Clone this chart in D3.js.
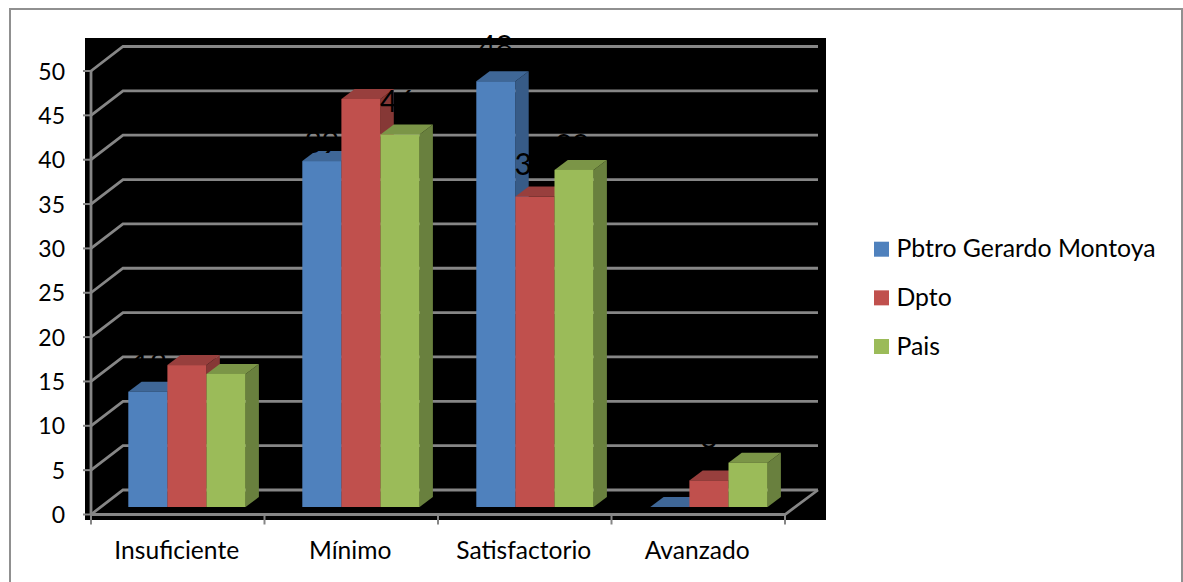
<!DOCTYPE html>
<html><head><meta charset="utf-8">
<script src="https://cdn.jsdelivr.net/npm/d3@7"></script>
<style>html,body{margin:0;padding:0;background:#fff}svg{display:block}text{font-family:Lato,"Open Sans",sans-serif}</style>
</head><body><svg id="c" width="1183" height="582"></svg>
<script>
const categories = ["Insuficiente","Mínimo","Satisfactorio","Avanzado"];
const seriesNames = ["Pbtro Gerardo Montoya","Dpto","Pais"];
const pbtro = [13,39,48,0];
const dpto = [16,46,35,3];
const pais = [15,42,38,5];
const yTicks = [0,5,10,15,20,25,30,35,40,45,50];
const colors = ["#4F81BD","#C0504D","#9BBB59"];
const topColors = ["#3F6797","#983F3D","#7B9547"];
const sideColors = ["#375B87","#863836","#69803E"];
// label nudges relative to the centre/top of each bar: [series][category]
const labelDx = [[2,0,0,0],[0,36.5,-3,0],[0,34,-2,0]];
const labelDy = [[-17,-8,-24,-20],[-26,13,-22,-32],[-26,-11,-14,-28]];
const seriesValues = [pbtro,dpto,pais];

const svg = d3.select("#c");
svg.append("rect").attr("x",10).attr("y",9).attr("width",1172).attr("height",590)
  .attr("fill","#fff").attr("stroke","#909090").attr("stroke-width",2);
svg.append("rect").attr("x",85).attr("y",38).attr("width",741).attr("height",482).attr("fill","#000");

const y = d3.scaleLinear().domain([0,50]).range([514.5,71]);
const x = d3.scaleBand().domain(categories).range([91,785]);
const xBars = d3.scaleBand().domain(categories).range([91,787]);
const grid="#868686";
const backDx=32, backDy=24.5, gridRight=818;
const g = svg.append("g").attr("fill","none").attr("stroke",grid).attr("stroke-width",2.8);
yTicks.forEach(t=>{
  g.append("path").attr("d",d3.line()([[91,y(t)],[91+backDx,y(t)-backDy],[gridRight,y(t)-backDy]]));
  g.append("line").attr("x1",83).attr("x2",91).attr("y1",y(t)).attr("y2",y(t)).attr("stroke-width",2);
});
g.append("line").attr("x1",91).attr("x2",91).attr("y1",y(50)).attr("y2",y(0));
g.append("path").attr("d",d3.line()([[91,y(0)],[785,y(0)],[gridRight,y(0)-backDy]]));
[...categories.map(c=>x(c)),785].forEach(p=>{
  g.append("line").attr("x1",p).attr("x2",p).attr("y1",y(0)).attr("y2",y(0)+10).attr("stroke-width",2);
});

const floorDy=7.5, depthX=13.3, depthY=10;
const inner = d3.scaleBand().domain(seriesNames).range([37.3,37.3+117.3]);
const bars = svg.append("g");
categories.forEach((c,i)=>{
  seriesNames.forEach((s,k)=>{
    const v=seriesValues[k][i];
    const x0=xBars(c)+inner(s), w=inner.bandwidth();
    const yb=y(0)-floorDy, yt=y(v)-floorDy;
    const x1=x0+w;
    bars.append("polygon").attr("fill",sideColors[k])
      .attr("points",[[x1,yt],[x1+depthX,yt-depthY],[x1+depthX,yb-depthY],[x1,yb]].join(" "));
    bars.append("polygon").attr("fill",topColors[k])
      .attr("points",[[x0,yt],[x0+depthX,yt-depthY],[x1+depthX,yt-depthY],[x1,yt]].join(" "));
    if(v>0) bars.append("rect").attr("x",x0).attr("y",yt).attr("width",w).attr("height",yb-yt).attr("fill",colors[k]);
  });
});
const labels = svg.append("g").attr("fill","#000").attr("font-size",30).attr("text-anchor","middle");
categories.forEach((c,i)=>{
  seriesNames.forEach((s,k)=>{
    const v=seriesValues[k][i];
    labels.append("text").text(v)
      .attr("x",xBars(c)+inner(s)+inner.bandwidth()/2+labelDx[k][i])
      .attr("y",y(v)-floorDy+labelDy[k][i]);
  });
});
const axisText = svg.append("g").attr("fill","#000");
yTicks.forEach(t=>axisText.append("text").text(t).attr("font-size",23).attr("x",65).attr("y",y(t)+8.5).attr("text-anchor","end"));
categories.forEach(c=>axisText.append("text").text(c).attr("font-size",24.6).attr("x",x(c)+x.bandwidth()/2-1).attr("y",559).attr("text-anchor","middle"));
const legendY = d3.scalePoint().domain(seriesNames).range([249.2,346.5]);
seriesNames.forEach((s,k)=>{
  svg.append("rect").attr("x",874).attr("y",legendY(s)-7.5).attr("width",15).attr("height",15).attr("fill",colors[k]);
  svg.append("text").text(s).attr("x",896.5).attr("y",legendY(s)+8).attr("font-size",24.8).attr("fill","#000");
});
</script></body></html>
